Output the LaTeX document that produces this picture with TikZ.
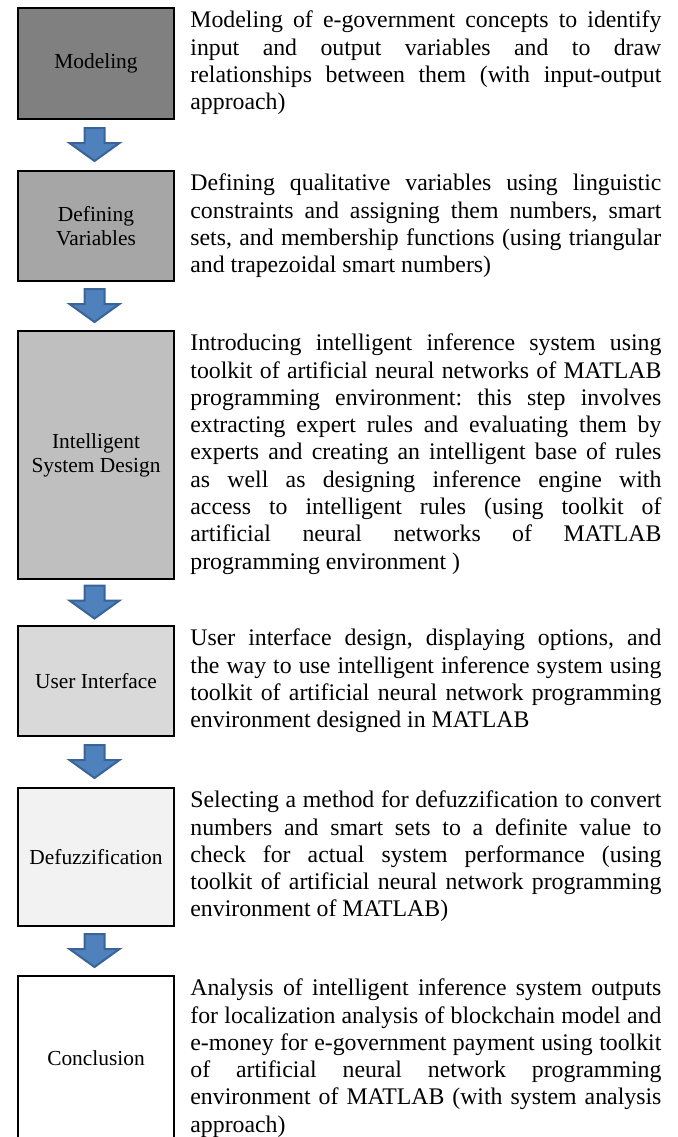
\documentclass[tikz,border=0pt]{standalone}
\usepackage{fontspec}
\setmainfont{Liberation Serif}
\usetikzlibrary{positioning,calc}
\definecolor{arrfill}{HTML}{4F81BD}
\definecolor{arrline}{HTML}{3A6398}
\hyphenpenalty=10000
\exhyphenpenalty=10000
\hbadness=10000
\frenchspacing
\begin{document}
\begin{tikzpicture}[x=0.5pt,y=-0.5pt,
  stepbox/.style={draw, line width=1pt, minimum width=78pt, inner sep=2pt, align=center, font=\fontsize{10.7}{12}\selectfont},
  desc/.style={text width=235.5pt, align=justify, inner sep=0pt, font=\fontsize{11.9}{13.65}\selectfont},
  blockarrow/.style={fill=arrfill, draw=arrline, line width=1pt, line join=miter}]
\useasboundingbox (0,0) rectangle (678,1137);
%左の箱
\node[stepbox, fill=black!50, minimum height=55.5pt] (model) at (96,63.5) {Modeling};
\node[stepbox, fill=black!35, minimum height=55pt, below=25pt of model] (vars) {Defining\\Variables};
\node[stepbox, fill=black!25, minimum height=124pt, below=24pt of vars] (design) {Intelligent\\System Design};
\node[stepbox, fill=black!15, minimum height=55pt, below=22.5pt of design] (ui) {User Interface};
\node[stepbox, fill=black!5, minimum height=69pt, below=25pt of ui] (defuzz) {Defuzzification};
\node[stepbox, fill=white, minimum height=82pt, below=24pt of defuzz] (concl) {Conclusion};
%右の説明
\node[desc, below right=1.8pt and 7.5pt of model.north east] (modeltxt) {Modeling of e-government concepts to identify\linebreak input and output variables and to draw\linebreak relationships between them (with input-output\linebreak approach)};
\node[desc, below right=1.8pt and 7.5pt of vars.north east] (varstxt) {Defining qualitative variables using linguistic\linebreak constraints and assigning them numbers, smart\linebreak sets, and membership functions (using triangular\linebreak and trapezoidal smart numbers)};
\node[desc, below right=1.8pt and 7.5pt of design.north east] (designtxt) {Introducing intelligent inference system using\linebreak toolkit of artificial neural networks of MATLAB\linebreak programming environment: this step involves\linebreak extracting expert rules and evaluating them by\linebreak experts and creating an intelligent base of rules\linebreak as well as designing inference engine with\linebreak access to intelligent rules (using toolkit of\linebreak artificial neural networks of MATLAB\linebreak programming environment )};
\node[desc, below right=1.8pt and 7.5pt of ui.north east] (uitxt) {User interface design, displaying options, and\linebreak the way to use intelligent inference system using\linebreak toolkit of artificial neural network programming\linebreak environment designed in MATLAB};
\node[desc, below right=1.8pt and 7.5pt of defuzz.north east] (defuzztxt) {Selecting a method for defuzzification to convert\linebreak numbers and smart sets to a definite value to\linebreak check for actual system performance (using\linebreak toolkit of artificial neural network programming\linebreak environment of MATLAB)};
\node[desc, below right=1.8pt and 7.5pt of concl.north east] (concltxt) {Analysis of intelligent inference system outputs\linebreak for localization analysis of blockchain model and\linebreak e-money for e-government payment using toolkit\linebreak of artificial neural network programming\linebreak environment of MATLAB (with system analysis\linebreak approach)};
%矢印
\foreach \a/\b in {model/vars,vars/design,design/ui,ui/defuzz,defuzz/concl}{
  \coordinate (m) at ($(\a.south)!0.5!(\b.north)+(-1.5,0)$);
  \draw[blockarrow] ($(m)+(-10,-17)$) -- ($(m)+(10,-17)$) -- ($(m)+(10,-2)$) -- ($(m)+(25,-2)$)
    -- ($(m)+(0,16)$) -- ($(m)+(-25,-2)$) -- ($(m)+(-10,-2)$) -- cycle;
}
\end{tikzpicture}
\end{document}
